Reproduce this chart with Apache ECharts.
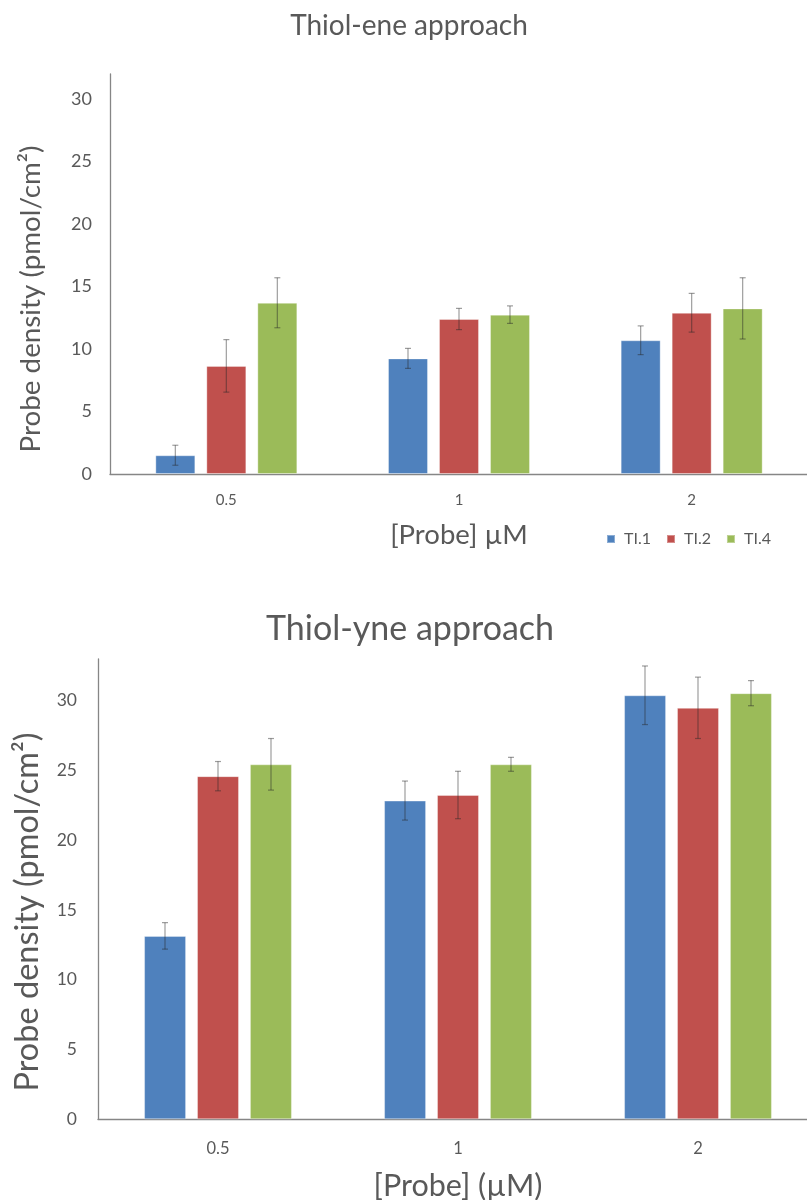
<!DOCTYPE html>
<html><head><meta charset="utf-8">
<script src="https://cdn.jsdelivr.net/npm/echarts@6/dist/echarts.min.js"></script>
<style>html,body{margin:0;padding:0;background:#fff}#c{width:807px;height:1200px}</style>
</head><body><div id="c"></div>
<script>
const categories = ['0.5', '1', '2'];
const seriesNames = ['TI.1', 'TI.2', 'TI.4'];
const colors = ['#4F81BD', '#C0504D', '#9BBB59'];

// Thiol-ene approach (top)
const eneTI1 = [1.5, 9.25, 10.7];
const eneTI2 = [8.65, 12.4, 12.9];
const eneTI4 = [13.7, 12.75, 13.25];
const eneTI1Err = [0.8, 0.8, 1.15];
const eneTI2Err = [2.1, 0.85, 1.55];
const eneTI4Err = [2.0, 0.7, 2.45];

// Thiol-yne approach (bottom)
const yneTI1 = [13.15, 22.85, 30.4];
const yneTI2 = [24.6, 23.25, 29.5];
const yneTI4 = [25.45, 25.45, 30.55];
const yneTI1Err = [0.95, 1.4, 2.1];
const yneTI2Err = [1.05, 1.7, 2.2];
const yneTI4Err = [1.85, 0.5, 0.9];

const eneTicks = [0, 5, 10, 15, 20, 25, 30];
const yneTicks = [0, 5, 10, 15, 20, 25, 30];

const FONT = 'Lato';
const TXT = '#595959';

function errSeries(gi, vals, errs, offset) {
  return {
    type: 'custom', xAxisIndex: gi, yAxisIndex: gi, z: 5, silent: true,
    data: vals.map((v, i) => [i, v, errs[i]]),
    renderItem: function (params, api) {
      const i = api.value(0), v = api.value(1), e = api.value(2);
      const hi = api.coord([i, v + e]);
      const lo = api.coord([i, v - e]);
      const x = hi[0] + offset;
      const st = { stroke: 'rgba(40,40,40,0.45)', lineWidth: 1.2 };
      return { type: 'group', children: [
        { type: 'line', shape: { x1: x, y1: hi[1], x2: x, y2: lo[1] }, style: st },
        { type: 'line', shape: { x1: x - 3, y1: hi[1], x2: x + 3, y2: hi[1] }, style: st },
        { type: 'line', shape: { x1: x - 3, y1: lo[1], x2: x + 3, y2: lo[1] }, style: st }
      ]};
    }
  };
}

function barSeries(gi, name, vals, color, bw, gap) {
  return {
    type: 'bar', name: gi === 0 ? name : undefined, xAxisIndex: gi, yAxisIndex: gi,
    data: vals, barWidth: bw, barGap: gap,
    itemStyle: { color: color, borderColor: 'rgba(255,255,255,0.35)', borderWidth: 1 }
  };
}

const chart = echarts.init(document.getElementById('c'));
chart.setOption({
  animation: false,
  textStyle: { fontFamily: FONT, color: TXT },
  title: [
    { text: 'Thiol-ene approach', left: 404, top: 7, textAlign: 'center',
      textStyle: { fontFamily: FONT, fontSize: 28, fontWeight: 'normal', color: TXT } },
    { text: 'Thiol-yne approach', left: 405, top: 607, textAlign: 'center',
      textStyle: { fontFamily: FONT, fontSize: 34, fontWeight: 'normal', color: TXT } }
  ],
  legend: {
    data: seriesNames, left: 601, top: 526, itemWidth: 8, itemHeight: 8, itemGap: 15,
    icon: 'rect', textStyle: { fontFamily: FONT, fontSize: 16, color: TXT, padding: [0, 0, 0, 4] }
  },
  grid: [
    { left: 110, top: 74, width: 698, height: 400, outerBoundsMode: 'none', containLabel: false },
    { left: 98, top: 659, width: 720, height: 460.3, outerBoundsMode: 'none', containLabel: false }
  ],
  xAxis: [
    { type: 'category', gridIndex: 0, data: categories,
      name: '[Probe] µM', nameLocation: 'middle', nameGap: 47,
      nameTextStyle: { fontFamily: FONT, fontSize: 27.5, color: TXT },
      axisLine: { lineStyle: { color: '#868686', width: 1.3 } }, axisTick: { show: false },
      axisLabel: { fontFamily: FONT, fontSize: 15, color: TXT, margin: 19 } },
    { type: 'category', gridIndex: 1, data: categories,
      name: '[Probe] (µM)', nameLocation: 'middle', nameGap: 51,
      nameTextStyle: { fontFamily: FONT, fontSize: 30.5, color: TXT },
      axisLine: { lineStyle: { color: '#868686', width: 1.3 } }, axisTick: { show: false },
      axisLabel: { fontFamily: FONT, fontSize: 16.5, color: TXT, margin: 21 } }
  ],
  yAxis: [
    { type: 'value', gridIndex: 0, min: eneTicks[0], max: 32, interval: 5,
      splitLine: { show: false }, axisTick: { show: false },
      axisLine: { show: true, lineStyle: { color: '#868686', width: 1.3 } },
      axisLabel: { fontFamily: FONT, fontSize: 18, color: TXT, margin: 18, showMaxLabel: false,
        formatter: v => eneTicks.includes(v) ? String(v) : '' } },
    { type: 'value', gridIndex: 1, min: yneTicks[0], max: 33, interval: 5,
      splitLine: { show: false }, axisTick: { show: false },
      axisLine: { show: true, lineStyle: { color: '#868686', width: 1.3 } },
      axisLabel: { fontFamily: FONT, fontSize: 17.5, color: TXT, margin: 21, showMaxLabel: false,
        formatter: v => yneTicks.includes(v) ? String(v) : '' } }
  ],
  graphic: [
    { type: 'text', x: 31, y: 299, rotation: Math.PI / 2,
      style: { text: 'Probe density (pmol/cm²)', fontFamily: FONT, fontSize: 27.8, fill: TXT,
        align: 'center', verticalAlign: 'middle' } },
    { type: 'text', x: 28, y: 912, rotation: Math.PI / 2,
      style: { text: 'Probe density (pmol/cm²)', fontFamily: FONT, fontSize: 32.5, fill: TXT,
        align: 'center', verticalAlign: 'middle' } }
  ],
  series: [
    barSeries(0, 'TI.1', eneTI1, colors[0], 40, '27.5%'),
    barSeries(0, 'TI.2', eneTI2, colors[1], 40, '27.5%'),
    barSeries(0, 'TI.4', eneTI4, colors[2], 40, '27.5%'),
    errSeries(0, eneTI1, eneTI1Err, -51),
    errSeries(0, eneTI2, eneTI2Err, 0),
    errSeries(0, eneTI4, eneTI4Err, 51),
    barSeries(1, 'TI.1', yneTI1, colors[0], 42, '26%'),
    barSeries(1, 'TI.2', yneTI2, colors[1], 42, '26%'),
    barSeries(1, 'TI.4', yneTI4, colors[2], 42, '26%'),
    errSeries(1, yneTI1, yneTI1Err, -53),
    errSeries(1, yneTI2, yneTI2Err, 0),
    errSeries(1, yneTI4, yneTI4Err, 53)
  ]
});
</script>
</body></html>
